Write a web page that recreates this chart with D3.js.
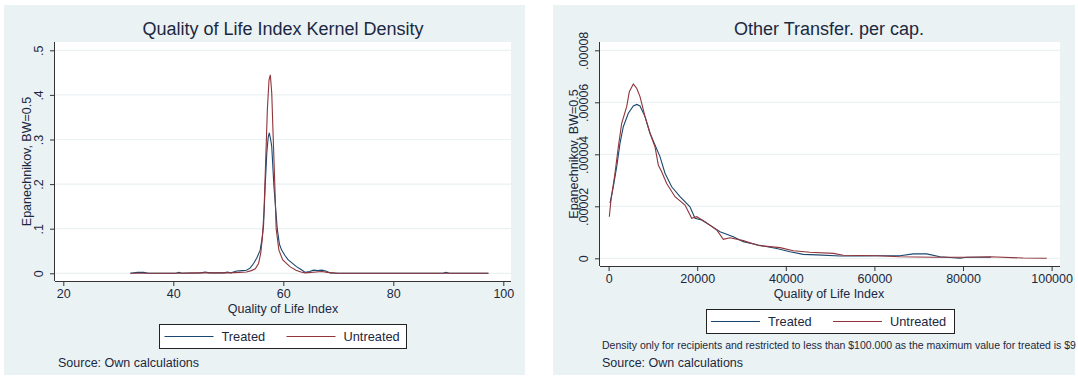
<!DOCTYPE html>
<html>
<head>
<meta charset="utf-8">
<script src="https://cdn.jsdelivr.net/npm/d3@7"></script>
<style>
  body { margin: 0; background: #fff; }
  svg text { font-family: "Liberation Sans", Arial, sans-serif; fill: #1c2841; }
</style>
</head>
<body>
<div id="chart"></div>
<script>
// ---- data ----
const qolTreated = [
  [32.2,0],[33.5,0.002],[34.6,0.002],[35.5,0],[40.5,0],[41,0.002],[41.6,0],[45,0.001],[45.8,0.003],
  [46.6,0.001],[49.3,0.001],[49.8,0.003],[50.5,0.001],[51.5,0.005],[52.5,0.006],[53.3,0.007],[54,0.012],
  [54.6,0.022],[55.2,0.035],[55.8,0.052],[56.1,0.075],[56.4,0.105],[56.7,0.194],[57.0,0.27],[57.25,0.305],
  [57.45,0.315],[57.7,0.3],[57.9,0.284],[58.3,0.194],[58.9,0.1],[59.3,0.065],[59.7,0.052],[60.3,0.04],
  [60.9,0.03],[62.4,0.015],[63.3,0.008],[64,0.002],[64.8,0.004],[65.5,0.007],[66.3,0.006],[67,0.007],
  [67.7,0.005],[68.5,0.001],[69.5,0],[89,0],[89.6,0.002],[90.2,0],[97.3,0]
];
const qolUntreated = [
  [32.2,0],[40,0],[45,0.001],[50,0.001],[52,0.002],[53.3,0.003],[54.2,0.006],[54.9,0.01],[55.5,0.022],
  [55.9,0.045],[56.2,0.08],[56.5,0.142],[56.8,0.254],[57.1,0.366],[57.4,0.433],[57.64,0.445],[57.9,0.404],
  [58.2,0.291],[58.45,0.2],[58.7,0.1],[59.2,0.052],[59.9,0.03],[61.2,0.015],[62.3,0.007],[63.2,0.003],
  [64,0.001],[66,0.003],[67,0.004],[68,0.002],[70,0],[97.3,0]
];
const otTreated = [
  [316,2.12e-5],[1060,2.75e-5],[1830,3.52e-5],[2570,4.42e-5],[3320,5.06e-5],[4450,5.58e-5],[5580,5.86e-5],
  [6340,5.92e-5],[7090,5.86e-5],[8220,5.45e-5],[9350,4.81e-5],[10470,4.36e-5],[11600,3.91e-5],[12730,3.27e-5],
  [14240,2.75e-5],[16120,2.37e-5],[18370,1.98e-5],[19500,1.54e-5],[21000,1.47e-5],[24000,1.15e-5],
  [25150,1.02e-5],[28150,0.83e-5],[30400,0.64e-5],[33800,0.51e-5],[37950,0.38e-5],[40950,0.25e-5],
  [43950,0.15e-5],[46980,0.13e-5],[52230,0.09e-5],[56750,0.09e-5],[61260,0.10e-5],[65780,0.10e-5],
  [68780,0.17e-5],[71800,0.17e-5],[74810,0.06e-5],[79320,0],[80830,0.04e-5],[86300,0.04e-5]
];
const otUntreated = [
  [160,1.6e-5],[540,2.24e-5],[1440,3.27e-5],[2200,4.29e-5],[2950,5.19e-5],[4080,5.83e-5],[4680,6.41e-5],
  [5580,6.70e-5],[6340,6.54e-5],[7090,6.22e-5],[8220,5.45e-5],[9350,4.81e-5],[10470,4.29e-5],[11220,3.59e-5],
  [11980,3.33e-5],[13110,2.88e-5],[14990,2.37e-5],[17250,2.05e-5],[18760,1.54e-5],[19890,1.6e-5],
  [21760,1.41e-5],[24400,1.09e-5],[25900,0.73e-5],[27400,0.79e-5],[30400,0.68e-5],[33800,0.49e-5],
  [38700,0.41e-5],[41700,0.29e-5],[45460,0.23e-5],[50720,0.19e-5],[52980,0.12e-5],[60500,0.10e-5],
  [65780,0.06e-5],[73300,0.04e-5],[80830,0.04e-5],[86100,0.06e-5],[93600,0.01e-5],[98900,0]
];
const qolXTicks = [20, 40, 60, 80, 100];
const qolYTicks = [0, 0.1, 0.2, 0.3, 0.4, 0.5];
const qolYLabels = ['0', '.1', '.2', '.3', '.4', '.5'];
const otXTicks = [0, 20000, 40000, 60000, 80000, 100000];
const otYTicks = [0, 0.00002, 0.00004, 0.00006, 0.00008];
const otYLabels = ['0', '.00002', '.00004', '.00006', '.00008'];
const seriesNames = ['Treated', 'Untreated'];

const bg = '#eaf2f3';
const treatedColor = '#1a476f';
const untreatedColor = '#90353b';

const svg = d3.select('#chart').append('svg')
  .attr('width', 1078).attr('height', 379);

function drawPanel(p) {
  const g = svg.append('g');
  g.append('rect').attr('x', p.panel[0]).attr('y', 5)
    .attr('width', p.panel[1] - p.panel[0]).attr('height', 370).attr('fill', bg);
  g.append('rect').attr('x', p.left).attr('y', 42)
    .attr('width', p.right - p.left).attr('height', p.axisY - 42).attr('fill', '#fff');

  const x = d3.scaleLinear().domain(p.xDomain).range(p.xRange);
  const y = d3.scaleLinear().domain(p.yDomain).range(p.yRange);

  // grid
  g.selectAll('.grid').data(p.yTicks).enter().append('line')
    .attr('x1', p.left).attr('x2', p.right)
    .attr('y1', d => y(d)).attr('y2', d => y(d))
    .attr('stroke', bg).attr('stroke-width', 1.2);

  // curves
  const line = d3.line().x(d => x(d[0])).y(d => y(d[1]));
  g.append('path').datum(p.treated).attr('d', line)
    .attr('fill', 'none').attr('stroke', treatedColor).attr('stroke-width', 1.1);
  g.append('path').datum(p.untreated).attr('d', line)
    .attr('fill', 'none').attr('stroke', untreatedColor).attr('stroke-width', 1.1);

  // axes
  const yAxis = d3.axisLeft(y).tickValues(p.yTicks)
    .tickFormat((d, i) => p.yLabels[i]).tickSize(5).tickPadding(4);
  const ya = g.append('g').attr('transform', `translate(${p.left},0)`).call(yAxis);
  ya.select('.domain').attr('d', `M-0.5,42V${p.axisY}`).attr('stroke', '#333');
  ya.selectAll('.tick line').attr('stroke', '#333');
  ya.selectAll('.tick text')
    .attr('font-size', 12.5).attr('text-anchor', 'middle')
    .attr('x', null).attr('dy', null)
    .attr('transform', 'translate(-12,0) rotate(-90)');

  const xAxis = d3.axisBottom(x).tickValues(p.xTicks).tickFormat(d3.format('d'))
    .tickSize(5).tickPadding(3);
  const xa = g.append('g').attr('transform', `translate(0,${p.axisY})`).call(xAxis);
  xa.select('.domain').attr('d', `M${p.left},0.5H${p.right}`).attr('stroke', '#333');
  xa.selectAll('.tick line').attr('stroke', '#333');
  xa.selectAll('.tick text').attr('font-size', 12.5);

  // titles
  g.append('text').attr('x', p.titleX).attr('y', 35).attr('text-anchor', 'middle')
    .attr('font-size', 18).text(p.title);
  g.append('text').attr('x', p.titleX).attr('y', p.axisY + 32).attr('text-anchor', 'middle')
    .attr('font-size', 12.5).text('Quality of Life Index');
  g.append('text').attr('transform', `translate(${p.yTitleX},${(42 + p.axisY) / 2}) rotate(-90)`)
    .attr('text-anchor', 'middle').attr('font-size', 12.5).text('Epanechnikov, BW=0.5');

  // legend
  const lg = g.append('g');
  lg.append('rect').attr('x', p.legend[0] + 0.5).attr('y', p.legendY + 0.5)
    .attr('width', p.legend[1] - p.legend[0]).attr('height', 24)
    .attr('fill', '#fff').attr('stroke', '#222');
  [treatedColor, untreatedColor].forEach((c, i) => {
    const lx = p.legendItems[i];
    lg.append('line').attr('x1', lx).attr('x2', lx + 49)
      .attr('y1', p.legendY + 12.5).attr('y2', p.legendY + 12.5)
      .attr('stroke', c).attr('stroke-width', 1.1);
    lg.append('text').attr('x', lx + 57).attr('y', p.legendY + 17)
      .attr('font-size', 12.8).text(seriesNames[i]);
  });

  if (p.note) {
    g.append('text').attr('x', p.textX).attr('y', 348.5).attr('font-size', 10.5).text(p.note);
  }
  g.append('text').attr('x', p.textX).attr('y', 366.5).attr('font-size', 12.5)
    .text('Source: Own calculations');
}

drawPanel({
  panel: [4, 525], left: 55, right: 511, axisY: 281,
  xDomain: [20, 100], xRange: [63.3, 503.3],
  yDomain: [0, 0.5], yRange: [273.3, 50.3],
  xTicks: qolXTicks, yTicks: qolYTicks, yLabels: qolYLabels,
  treated: qolTreated, untreated: qolUntreated,
  title: 'Quality of Life Index Kernel Density', titleX: 283, yTitleX: 31,
  legend: [159, 406], legendY: 324, legendItems: [164.5, 286.5],
  textX: 58
});

drawPanel({
  panel: [553, 1075], left: 600, right: 1060, axisY: 266,
  xDomain: [0, 100000], xRange: [608.6, 1051.6],
  yDomain: [0, 0.00008], yRange: [258.3, 50.3],
  xTicks: otXTicks, yTicks: otYTicks, yLabels: otYLabels,
  treated: otTreated, untreated: otUntreated,
  title: 'Other Transfer. per cap.', titleX: 829, yTitleX: 578,
  legend: [706, 954], legendY: 309, legendItems: [711, 833],
  note: 'Density only for recipients and restricted to less than $100.000 as the maximum value for treated is $9',
  textX: 602
});
</script>
</body>
</html>
